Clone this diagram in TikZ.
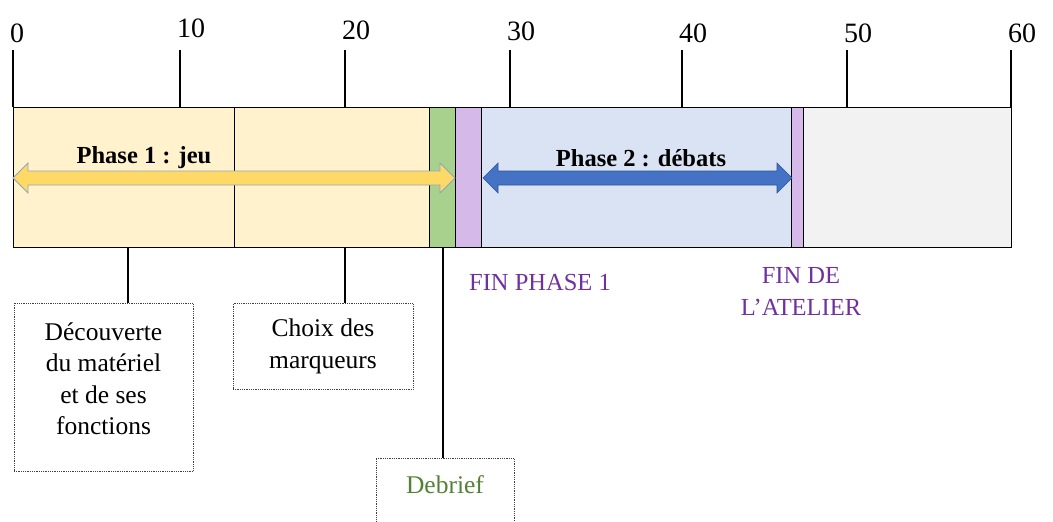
\documentclass[tikz,border=0pt]{standalone}
\usepackage{fontspec}
\setmainfont{Liberation Serif}
\definecolor{yel}{HTML}{FFF2CC}
\definecolor{grn}{HTML}{A9D18E}
\definecolor{pur}{HTML}{D5B9E8}
\definecolor{blu}{HTML}{DAE3F3}
\definecolor{gry}{HTML}{F2F2F2}
\definecolor{yarrow}{HTML}{FFD966}
\definecolor{yedge}{HTML}{8FA5BF}
\definecolor{barrow}{HTML}{4472C4}
\definecolor{bedge}{HTML}{2F5597}
\definecolor{fintxt}{HTML}{7030A0}
\definecolor{debtxt}{HTML}{548235}
\begin{document}
\begin{tikzpicture}[x=1pt,y=-1pt,
  seg/.style={draw=black, line width=1.4pt, inner sep=0pt, anchor=north west, minimum height=140pt},
  tickline/.style={line width=1.3pt},
  num/.style={font=\fontsize{28}{30}\selectfont, inner sep=0pt, anchor=west},
  note/.style={draw=black!75, densely dotted, line width=0.8pt, align=center, font=\fontsize{25.5}{31.5}\selectfont, inner sep=0pt},
  phase/.style={font=\bfseries\fontsize{24.5}{28}\selectfont, inner sep=0pt},
  fin/.style={text=fintxt, align=center, font=\fontsize{24.5}{32}\selectfont, inner sep=0pt}]
\useasboundingbox (0,0) rectangle (1053,522);
% bar segments
\node[seg, fill=yel, minimum width=221pt] (y1) at (13,107) {};
\node[seg, fill=yel, minimum width=195pt] (y2) at (234,107) {};
\node[seg, fill=grn, minimum width=26pt] (gr) at (429,107) {};
\node[seg, fill=pur, minimum width=26pt] (pu1) at (455,107) {};
\node[seg, fill=blu, minimum width=310pt] (bl) at (481,107) {};
\node[seg, fill=pur, minimum width=12pt] (pu2) at (791,107) {};
\node[seg, fill=gry, minimum width=208pt] (gy) at (803,107) {};
% ticks
\foreach \x/\lab/\ly in {13/0/33,180/10/28,345/20/30,510/30/31,682/40/33,847/50/33,1011/60/33}{
  \coordinate (t\lab) at (\x,50);
  \draw[tickline] (t\lab) -- (t\lab |- y1.north);
  \node[num] (n\lab) at (\x-3,\ly) {\lab};
}
% arrows
\path[fill=yarrow, draw=yedge, line width=0.8pt]
  (13,178) -- (28,163) -- (28,171) -- (440,171) -- (440,163) -- (455,178)
  -- (440,193) -- (440,185) -- (28,185) -- (28,193) -- cycle;
\path[fill=barrow, draw=bedge, line width=0.6pt]
  (483,178) -- (498,163) -- (498,171) -- (777,171) -- (777,163) -- (792,178)
  -- (777,193) -- (777,185) -- (498,185) -- (498,193) -- cycle;
\node[phase] (p1) at (144,158) {Phase 1 : jeu};
\node[phase] (p2) at (641,158) {Phase 2 : débats};
% notes
\node[note, minimum width=179pt, minimum height=168pt, anchor=north] (box1) at (103.5,303)
  {Découverte\\du matériel\\et de ses\\fonctions\\[-14pt]\mbox{}};
\node[note, minimum width=180pt, minimum height=86pt, anchor=north] (box2) at (323,303)
  {Choix des\\marqueurs};
\node[note, minimum width=138pt, text width=136pt, text height=20pt, text depth=60pt, inner ysep=15pt, anchor=north, text=debtxt] (box3) at (445,458)
  {Debrief};
\coordinate (d1) at (128,247);
\coordinate (d2) at (345,247);
\coordinate (d3) at (443,247);
\draw[tickline] (d1) -- (d1 |- box1.north);
\draw[tickline] (d2) -- (d2 |- box2.north);
\draw[tickline] (d3) -- (d3 |- box3.north);
% end labels
\node[fin] (fin1) at (540,283) {FIN PHASE 1};
\node[fin] (fin2) at (801,291) {FIN DE\\L’ATELIER};
\end{tikzpicture}
\end{document}
